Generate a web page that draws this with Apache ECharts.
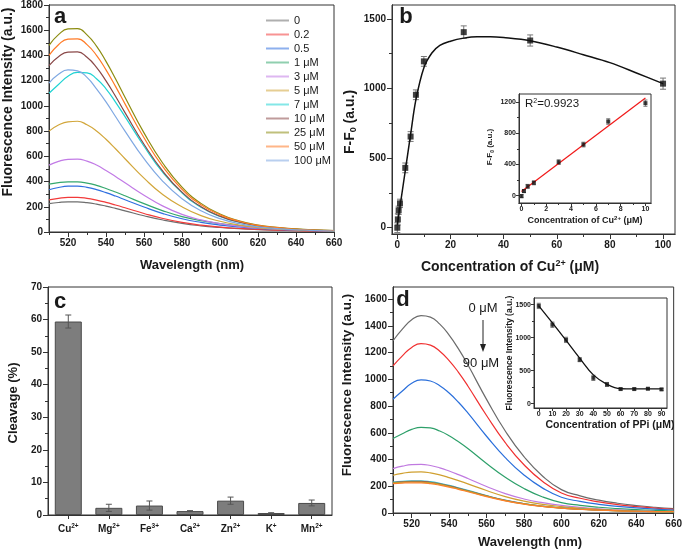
<!DOCTYPE html>
<html>
<head>
<meta charset="utf-8">
<script src="https://cdn.jsdelivr.net/npm/echarts@6/dist/echarts.min.js"></script>
<style>
  html, body { margin: 0; padding: 0; background: #fff; }
  #chart { width: 685px; height: 552px; }
</style>
</head>
<body>
<div id="chart"></div>
<script>
// ---- data ----
// panel a: spectra at increasing Cu2+
var W = [510, 515, 520, 525, 530, 535, 540, 545, 550, 560, 570, 580, 590, 600, 610, 620, 630, 640, 650, 660];
var aNames = ['0', '0.2', '0.5', '1 μM', '3 μM', '5 μM', '7 μM', '10 μM', '25 μM', '50 μM', '100 μM'];
var aColors = ['#6e6e6e', '#f23a3a', '#2f6fe0', '#35a86e', '#c27be6', '#d2a63a', '#1fd3d3', '#8a4848', '#8c8c10', '#ff7a26', '#7fa8e2'];
var aS0 = [225, 234, 239, 239, 233, 221, 205, 187, 168, 129, 95, 68, 49, 36, 26, 19, 14, 10, 7, 5];
var aS02 = [255, 267, 274, 274, 267, 253, 235, 214, 192, 147, 107, 76, 54, 39, 28, 20, 15, 11, 8, 6];
var aS05 = [335, 353, 363, 364, 354, 336, 312, 285, 256, 198, 146, 105, 76, 55, 40, 29, 21, 15, 11, 8];
var aS1 = [380, 392, 397, 397, 388, 370, 345, 317, 287, 225, 168, 122, 90, 67, 50, 37, 28, 21, 16, 12];
var aS3 = [530, 560, 576, 578, 562, 531, 488, 440, 390, 292, 205, 140, 96, 66, 46, 32, 23, 17, 12, 9];
var aS5 = [800, 848, 874, 878, 850, 801, 735, 660, 581, 427, 295, 200, 130, 85, 55, 35, 24, 17, 12, 9];
var aS7 = [1100, 1170, 1235, 1265, 1262, 1215, 1135, 1030, 915, 680, 470, 310, 196, 123, 77, 47, 31, 21, 14, 9];
var aS10 = [1320, 1390, 1427, 1428, 1385, 1306, 1198, 1076, 947, 696, 481, 316, 201, 126, 79, 49, 32, 22, 14, 10];
var aS25 = [1480, 1565, 1610, 1612, 1563, 1474, 1353, 1215, 1069, 786, 543, 356, 227, 143, 89, 55, 36, 24, 16, 11];
var aS50 = [1400, 1485, 1530, 1532, 1486, 1401, 1286, 1155, 1016, 747, 516, 339, 216, 136, 85, 52, 34, 23, 15, 11];
var aS100 = [1180, 1250, 1285, 1277, 1226, 1135, 1032, 916, 800, 581, 400, 264, 168, 106, 66, 41, 27, 18, 12, 8];
var aSpectra = [aS0, aS02, aS05, aS1, aS3, aS5, aS7, aS10, aS25, aS50, aS100];

// panel b: F-F0 vs Cu2+
var bConc = [0, 0.2, 0.5, 1, 3, 5, 7, 10, 25, 50, 100];
var bResp = [0, 60, 125, 175, 430, 655, 955, 1195, 1405, 1345, 1035];
var bErr = [35, 40, 30, 30, 35, 35, 35, 35, 45, 40, 40];
var bFitX = [0, 1, 3, 5, 7, 10, 13, 16, 20, 25, 30, 35, 40, 50, 60, 70, 80, 90, 100];
var bFitY = [20, 150, 410, 670, 920, 1150, 1255, 1310, 1340, 1362, 1372, 1372, 1366, 1343, 1298, 1243, 1186, 1112, 1035];
// inset of b: linear range
var biConc = [0, 0.2, 0.5, 1, 3, 5, 7, 10];
var biResp = [-5, 60, 120, 165, 430, 655, 950, 1185];
var biErr = [20, 20, 25, 25, 30, 30, 35, 40];
var biFitX = [0, 10];
var biFitY = [55, 1250];

// panel c: cleavage by metal ion
var cIons = ['Cu', 'Mg', 'Fe', 'Ca', 'Zn', 'K', 'Mn'];
var cCharges = ['2+', '2+', '3+', '2+', '2+', '+', '2+'];
var cCleavage = [59.4, 2.2, 2.9, 1.2, 4.4, 0.6, 3.7];
var cErr = [2.0, 1.1, 1.4, 0.15, 1.1, 0.1, 0.9];

// panel d: spectra at increasing PPi
var dNames = ['0 μM', '10 μM', '20 μM', '30 μM', '40 μM', '50 μM', '60 μM', '70 μM', '80 μM', '90 μM'];
var dColors = ['#6b6b6b', '#f03030', '#2a6fdb', '#2ea06a', '#c07ae0', '#d0a030', '#3cc8d8', '#9a5050', '#a8a830', '#ff7f2a'];
var dS0 = [1288, 1375, 1445, 1476, 1465, 1412, 1330, 1227, 1108, 850, 613, 421, 275, 175, 128, 96, 73, 56, 43, 33];
var dS10 = [1100, 1175, 1238, 1266, 1255, 1210, 1140, 1052, 950, 729, 526, 361, 236, 150, 110, 83, 63, 48, 37, 28];
var dS20 = [851, 912, 970, 996, 987, 952, 897, 828, 748, 574, 414, 284, 186, 118, 87, 65, 50, 38, 29, 22];
var dS30 = [557, 593, 625, 641, 636, 613, 578, 533, 482, 370, 267, 183, 120, 78, 57, 43, 33, 25, 19, 15];
var dS40 = [332, 350, 362, 364, 355, 338, 314, 287, 258, 198, 145, 105, 77, 57, 42, 31, 23, 17, 13, 10];
var dS50 = [282, 296, 306, 307, 300, 285, 265, 242, 218, 168, 123, 89, 65, 48, 36, 27, 20, 15, 11, 8];
var dS60 = [232, 237, 240, 240, 234, 222, 206, 188, 169, 130, 96, 70, 51, 38, 29, 22, 17, 13, 10, 8];
var dS70 = [228, 233, 236, 236, 230, 218, 203, 185, 166, 128, 94, 69, 50, 37, 28, 22, 17, 13, 10, 8];
var dS80 = [225, 230, 232, 231, 225, 214, 199, 181, 163, 126, 93, 68, 50, 37, 28, 21, 16, 13, 10, 8];
var dS90 = [220, 224, 226, 225, 219, 208, 194, 177, 159, 123, 91, 67, 49, 36, 28, 21, 16, 13, 10, 12];
var dSpectra = [dS0, dS10, dS20, dS30, dS40, dS50, dS60, dS70, dS80, dS90];
// inset of d: intensity vs PPi
var diConc = [0, 10, 20, 30, 40, 50, 60, 70, 80, 90];
var diInt = [1480, 1195, 965, 665, 390, 290, 220, 220, 225, 215];
var diErr = [40, 40, 40, 30, 40, 30, 15, 15, 15, 15];
var diFit = [1480, 1222, 958, 688, 435, 292, 225, 222, 222, 222];

// tick values
var wlLabels = [520, 540, 560, 580, 600, 620, 640, 660];
var wlMinor = [510, 530, 550, 570, 590, 610, 630, 650];
var aYLabels = [0, 200, 400, 600, 800, 1000, 1200, 1400, 1600, 1800];
var aYMinor = [100, 300, 500, 700, 900, 1100, 1300, 1500, 1700];
var bXLabels = [0, 20, 40, 60, 80, 100];
var bXMinor = [10, 30, 50, 70, 90];
var bYLabels = [0, 500, 1000, 1500];
var bYMinor = [250, 750, 1250];
var biXLabels = [0, 2, 4, 6, 8, 10];
var biXMinor = [1, 3, 5, 7, 9];
var biYLabels = [0, 400, 800, 1200];
var biYMinor = [200, 600, 1000];
var dYLabels = [0, 200, 400, 600, 800, 1000, 1200, 1400, 1600];
var dYMinor = [100, 300, 500, 700, 900, 1100, 1300, 1500];
var diXLabels = [0, 10, 20, 30, 40, 50, 60, 70, 80, 90];
var diYLabels = [0, 500, 1000, 1500];
var diYMinor = [250, 750, 1250];

// ---- helpers ----
var FONT = "'Liberation Sans', Arial, sans-serif";
var INK = '#1a1a1a';

function zip(xs, ys) {
  return xs.map(function (x, i) { return [x, ys[i]]; });
}

function grid(l, t, r, b) {
  return { left: l, top: t, right: r, bottom: b, show: true, backgroundColor: '#fff',
    borderColor: '#333', borderWidth: 1, containLabel: false };
}

function valAxis(gi, min, max, labels, pos, size, tickLen) {
  return {
    type: 'value', gridIndex: gi, min: min, max: max, position: pos,
    splitLine: { show: false },
    axisLine: { show: true, onZero: false, lineStyle: { color: '#333', width: 1 } },
    axisTick: { show: true, customValues: labels, length: tickLen, lineStyle: { color: '#333' } },
    axisLabel: { customValues: labels, fontSize: size, fontWeight: 'bold', fontFamily: FONT, color: INK,
      margin: size > 8 ? 6 : 3, formatter: function (v) { return String(v); } }
  };
}

// second axis on the same side, only to carry the short minor ticks
function minorAxis(gi, min, max, ticks, pos, len) {
  return {
    type: 'value', gridIndex: gi, min: min, max: max, position: pos, offset: 0,
    splitLine: { show: false },
    axisLine: { show: true, onZero: false, lineStyle: { color: '#333', width: 1 } },
    axisTick: { show: true, customValues: ticks, length: len, lineStyle: { color: '#333' } },
    axisLabel: { show: false }
  };
}

function errSeries(xi, yi, xs, ys, es, cap, color) {
  return {
    type: 'custom', xAxisIndex: xi, yAxisIndex: yi, silent: true, z: 3,
    data: xs.map(function (x, i) { return [x, ys[i], es[i]]; }),
    renderItem: function (params, api) {
      var x = api.value(0), y = api.value(1), e = api.value(2);
      var hi = api.coord([x, y + e]), lo = api.coord([x, y - e]);
      var st = { stroke: color, lineWidth: 1 };
      return { type: 'group', children: [
        { type: 'line', shape: { x1: hi[0], y1: hi[1], x2: lo[0], y2: lo[1] }, style: st },
        { type: 'line', shape: { x1: hi[0] - cap, y1: hi[1], x2: hi[0] + cap, y2: hi[1] }, style: st },
        { type: 'line', shape: { x1: lo[0] - cap, y1: lo[1], x2: lo[0] + cap, y2: lo[1] }, style: st }
      ] };
    }
  };
}

function txt(x, y, text, size, opts) {
  opts = opts || {};
  return {
    type: 'text', x: x, y: y, rotation: opts.rotation || 0, silent: true, z: 100,
    style: {
      text: text, fontSize: size, fontWeight: opts.weight || 'bold', fontFamily: FONT, fill: INK,
      align: opts.align || 'center', verticalAlign: 'middle',
      rich: {
        sup: { fontSize: Math.round(size * 0.62), fontWeight: opts.weight || 'bold', fontFamily: FONT,
          fill: INK, verticalAlign: 'top', lineHeight: size * 1.2 },
        sub: { fontSize: Math.round(size * 0.62), fontWeight: opts.weight || 'bold', fontFamily: FONT,
          fill: INK, verticalAlign: 'bottom', lineHeight: size * 1.2 },
        n: { fontSize: size, lineHeight: size * 1.2, fontWeight: opts.weight || 'bold', fontFamily: FONT, fill: INK }
      }
    }
  };
}

// ---- build chart ----
var myChart = echarts.init(document.getElementById('chart'));

var series = [];
aNames.forEach(function (name, i) {
  series.push({ name: name, type: 'line', xAxisIndex: 0, yAxisIndex: 0, data: zip(W, aSpectra[i]),
    smooth: true, showSymbol: false, silent: true, color: aColors[i], lineStyle: { width: 1.2 } });
});
// b main
series.push(errSeries(1, 1, bConc, bResp, bErr, 3, '#777'));
series.push({ type: 'line', xAxisIndex: 1, yAxisIndex: 1, data: zip(bFitX, bFitY), smooth: 0.35,
  showSymbol: false, silent: true, color: '#111', lineStyle: { width: 1.5 } });
series.push({ type: 'scatter', xAxisIndex: 1, yAxisIndex: 1, data: zip(bConc, bResp), symbol: 'rect',
  symbolSize: 6, silent: true, z: 4, itemStyle: { color: '#111' } });
// b inset
series.push(errSeries(2, 2, biConc, biResp, biErr, 2, '#777'));
series.push({ type: 'line', xAxisIndex: 2, yAxisIndex: 2, data: zip(biFitX, biFitY), showSymbol: false,
  silent: true, color: '#f01818', lineStyle: { width: 1.2 } });
series.push({ type: 'scatter', xAxisIndex: 2, yAxisIndex: 2, data: zip(biConc, biResp), symbol: 'rect',
  symbolSize: 4, silent: true, z: 4, itemStyle: { color: '#111' } });
// c
series.push({ type: 'bar', xAxisIndex: 3, yAxisIndex: 3, data: cCleavage, barWidth: 27, silent: true,
  itemStyle: { color: '#7d7d7d', borderColor: '#4a4a4a', borderWidth: 1 } });
series.push(errSeries(3, 3, cIons.map(function (c, i) { return i; }), cCleavage, cErr, 3, '#555'));
// d main
dNames.forEach(function (name, i) {
  series.push({ name: 'd ' + name, type: 'line', xAxisIndex: 4, yAxisIndex: 4, data: zip(W, dSpectra[i]),
    smooth: true, showSymbol: false, silent: true, color: dColors[i], lineStyle: { width: 1.2 } });
});
// d inset
series.push(errSeries(5, 5, diConc, diInt, diErr, 2, '#777'));
series.push({ type: 'line', xAxisIndex: 5, yAxisIndex: 5, data: zip(diConc, diFit), smooth: 0.4,
  showSymbol: false, silent: true, color: '#111', lineStyle: { width: 1.3 } });
series.push({ type: 'scatter', xAxisIndex: 5, yAxisIndex: 5, data: zip(diConc, diInt), symbol: 'rect',
  symbolSize: 4, silent: true, z: 4, itemStyle: { color: '#111' } });

var catAxis = {
  type: 'category', gridIndex: 3, data: cIons, position: 'bottom',
  axisLine: { show: true, lineStyle: { color: '#333' } },
  axisTick: { show: true, alignWithLabel: true, length: 4, lineStyle: { color: '#333' } },
  axisLabel: {
    interval: 0, fontSize: 10, fontWeight: 'bold', fontFamily: FONT, color: INK, margin: 8,
    formatter: function (v, i) { return '{n|' + v + '}{sup|' + cCharges[i] + '}'; },
    rich: {
      n: { fontSize: 10, fontWeight: 'bold', fontFamily: FONT, color: INK, lineHeight: 13 },
      sup: { fontSize: 6.5, fontWeight: 'bold', fontFamily: FONT, color: INK, verticalAlign: 'top', lineHeight: 13 }
    }
  }
};

var cYAxis = {
  type: 'value', gridIndex: 3, min: 0, max: 70, interval: 10, position: 'left',
  splitLine: { show: false },
  axisLine: { show: true, onZero: false, lineStyle: { color: '#333' } },
  axisTick: { show: true, length: 5, lineStyle: { color: '#333' } },
  minorTick: { show: true, splitNumber: 2, length: 3, lineStyle: { color: '#333' } },
  axisLabel: { fontSize: 10, fontWeight: 'bold', fontFamily: FONT, color: INK, margin: 6 }
};

myChart.setOption({
  animation: false,
  backgroundColor: '#fff',
  textStyle: { fontFamily: FONT },
  grid: [
    grid(49, 5, 351, 320),   // a
    grid(392, 5, 10, 318),   // b
    grid(519, 94, 34, 349),  // b inset
    grid(48, 287, 353, 37),  // c
    grid(393, 287, 8, 39),   // d
    grid(534, 298, 18, 144)  // d inset
  ],
  legend: {
    data: aNames, orient: 'vertical', left: 261, top: 9, itemWidth: 23, itemHeight: 2, itemGap: 1,
    icon: 'rect', itemStyle: { opacity: 0.55 },
    textStyle: { fontSize: 11, fontFamily: FONT, color: INK, lineHeight: 13 }
  },
  xAxis: [
    valAxis(0, 510, 660, wlLabels, 'bottom', 10, 5),
    valAxis(1, -2, 104.5, bXLabels, 'bottom', 10, 5),
    valAxis(2, -0.2, 10.45, biXLabels, 'bottom', 7, 3),
    catAxis,
    valAxis(4, 510, 660, wlLabels, 'bottom', 10, 5),
    valAxis(5, -3.5, 94, diXLabels, 'bottom', 7, 3),
    minorAxis(0, 510, 660, wlMinor, 'bottom', 3),
    minorAxis(1, -2, 104.5, bXMinor, 'bottom', 3),
    minorAxis(2, -0.2, 10.45, biXMinor, 'bottom', 2),
    minorAxis(4, 510, 660, wlMinor, 'bottom', 3)
  ],
  yAxis: [
    valAxis(0, 0, 1800, aYLabels, 'left', 10, 5),
    valAxis(1, -45, 1600, bYLabels, 'left', 10, 5),
    valAxis(2, -93, 1302, biYLabels, 'left', 7, 3),
    cYAxis,
    valAxis(4, 0, 1690, dYLabels, 'left', 10, 5),
    valAxis(5, -67, 1600, diYLabels, 'left', 7, 3),
    minorAxis(0, 0, 1800, aYMinor, 'left', 3),
    minorAxis(1, -45, 1600, bYMinor, 'left', 3),
    minorAxis(2, -93, 1302, biYMinor, 'left', 2),
    minorAxis(4, 0, 1690, dYMinor, 'left', 3),
    minorAxis(5, -67, 1600, diYMinor, 'left', 2)
  ],
  series: series,
  graphic: [
    txt(60, 17, 'a', 22),
    txt(406, 17, 'b', 22),
    txt(60, 302, 'c', 22),
    txt(403, 300, 'd', 22),
    txt(8, 102, 'Fluorescence Intensity (a.u.)', 14, { rotation: Math.PI / 2 }),
    txt(192, 265, 'Wavelength (nm)', 13),
    txt(350, 122, '{n|F-F}{sub|0}{n| (a.u.)}', 14, { rotation: Math.PI / 2 }),
    txt(510, 267, '{n|Concentration of Cu}{sup|2+}{n| (μM)}', 14),
    txt(490, 147, '{n|F-F}{sub|0}{n| (a.u.)}', 8, { rotation: Math.PI / 2 }),
    txt(585, 221, '{n|Concentration of Cu}{sup|2+}{n| (μM)}', 9),
    txt(525, 104, '{n|R}{sup|2}{n|=0.9923}', 11.5, { align: 'left', weight: 'normal' }),
    txt(13, 403, 'Cleavage (%)', 13, { rotation: Math.PI / 2 }),
    txt(347, 385, 'Fluorescence Intensity (a.u.)', 13.5, { rotation: Math.PI / 2 }),
    txt(530, 542, 'Wavelength (nm)', 13),
    txt(510, 353, 'Fluorescence Intensity (a.u.)', 8.5, { rotation: Math.PI / 2 }),
    txt(610, 425, 'Concentration of PPi (μM)', 10.5),
    txt(483, 308, '0 μM', 13, { weight: 'normal' }),
    txt(481, 363, '90 μM', 13, { weight: 'normal' }),
    { type: 'line', silent: true, shape: { x1: 483, y1: 320, x2: 483, y2: 346 }, style: { stroke: '#222', lineWidth: 1 } },
    { type: 'polygon', silent: true, shape: { points: [[480, 344], [486, 344], [483, 352]] }, style: { fill: '#222' } }
  ]
});
</script>
</body>
</html>
